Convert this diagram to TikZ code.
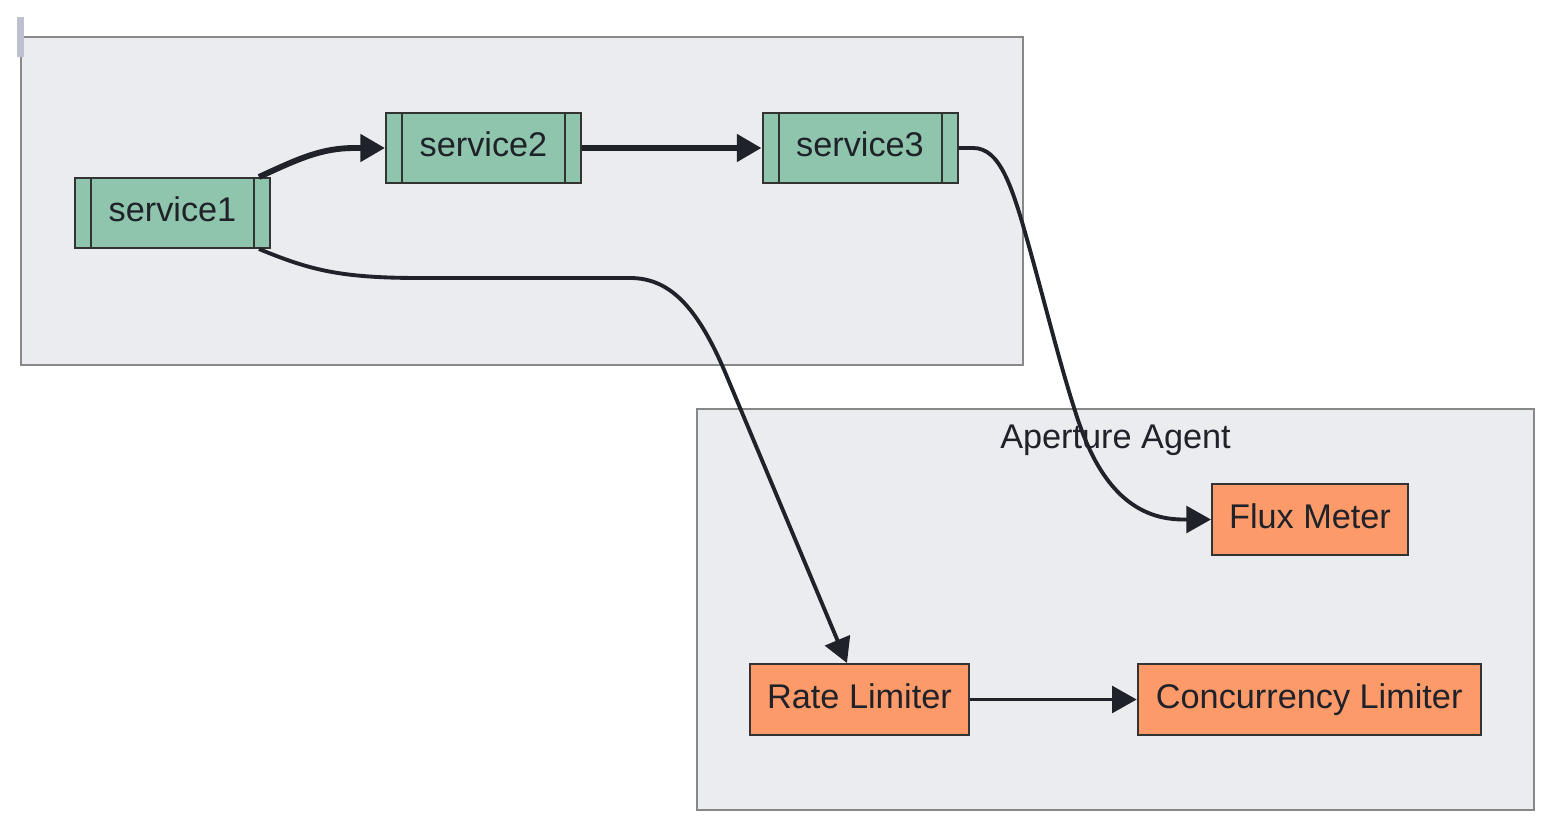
\documentclass[tikz,border=0pt]{standalone}
\usepackage{fontspec}
\setmainfont{Liberation Sans}
\usetikzlibrary{arrows.meta}
\definecolor{clfill}{RGB}{235,236,240}
\definecolor{clline}{RGB}{136,136,136}
\definecolor{svcfill}{RGB}{143,197,173}
\definecolor{ctlfill}{RGB}{252,154,106}
\definecolor{ink}{RGB}{31,34,41}
\definecolor{nodeline}{RGB}{51,51,51}
\definecolor{markgray}{RGB}{189,192,207}
\tikzset{
  cluster/.style={draw=clline, fill=clfill, line width=1.5pt},
  basebox/.style={draw=nodeline, line width=1.5pt, text=ink,
    font=\fontsize{25.7pt}{30pt}\selectfont, inner sep=0pt,
    text height=18pt, text depth=4.5pt},
  svc/.style={basebox, fill=svcfill, minimum width=146.25pt, minimum height=52.5pt},
  ctl/.style={basebox, fill=ctlfill, minimum height=53.25pt},
  subline/.style={draw=nodeline, line width=1.5pt},
  link/.style={draw=ink, line width=2.9pt, -{Triangle[length=18.5pt,width=20pt]}},
  thicklink/.style={link, line width=4.4pt},
  title/.style={text=ink, font=\fontsize{25.7pt}{30pt}\selectfont, inner sep=0pt, anchor=base},
}
\begin{document}
\begin{tikzpicture}[x=0.75pt, y=-0.75pt]
\useasboundingbox (0,0) rectangle (1568,838);
\fill[white] (0,0) rectangle (1568,838);
% clusters
\draw[cluster] (21,37) rectangle (1023,365);
\draw[cluster] (697,409) rectangle (1534,810);
\fill[markgray] (17,17) rectangle (24,57);
\node[title] (agenttitle) at (1115.5,448) {Aperture Agent};
% nodes
\node[svc] (s1) at (172.5,213) {service1};
\node[svc] (s2) at (483.5,148) {service2};
\node[svc] (s3) at (860,148) {service3};
\foreach \n in {s1,s2,s3}{
  \draw[subline] ([xshift=12.75pt]\n.north west) -- ([xshift=12.75pt]\n.south west);
  \draw[subline] ([xshift=-12.75pt]\n.north east) -- ([xshift=-12.75pt]\n.south east);
}
\node[ctl, minimum width=147pt] (flux) at (1310,519.5) {Flux Meter};
\node[ctl, minimum width=164.25pt] (rate) at (859.5,699.5) {Rate Limiter};
\node[ctl, minimum width=257.25pt] (conc) at (1309.2,699.5) {Concurrency Limiter};
% edges
\draw[thicklink] ([xshift=-9pt]s1.north east) .. controls (300,158) and (322,148) .. (355,148) -- (s2.west);
\draw[thicklink] (s2.east) -- (s3.west);
\draw[link] (s3.east) -- (973,148) .. controls (1000,148) and (1012,185) .. (1030,250)
  .. controls (1048,315) and (1062,372) .. (1078,420)
  .. controls (1098,480) and (1130,519.5) .. (1183,519.5) -- (flux.west);
\draw[link] ([xshift=-9pt]s1.south east) .. controls (310,270) and (340,278) .. (420,278) -- (630,278)
  .. controls (668,278) and (696,304) .. (725,372) -- ([xshift=-9.4pt]rate.north);
\draw[link] (rate.east) -- (conc.west);
\end{tikzpicture}
\end{document}
